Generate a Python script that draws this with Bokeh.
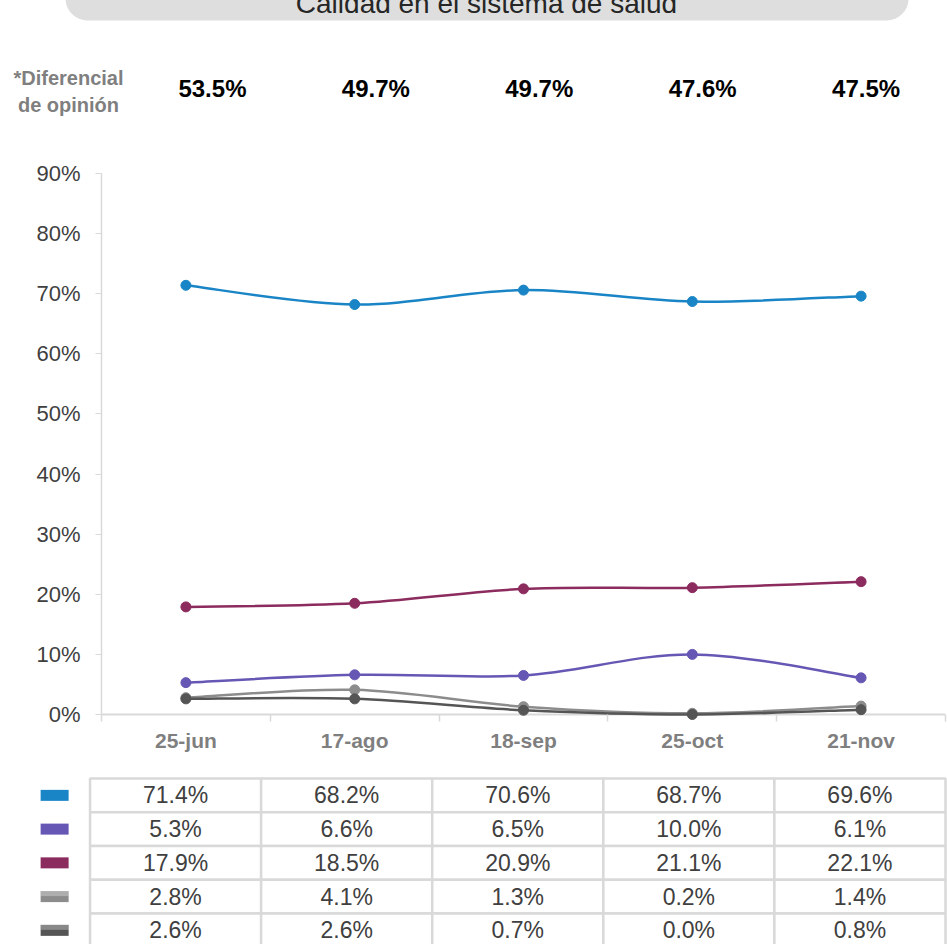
import numpy as np
from bokeh.plotting import figure
from bokeh.models import Range1d, FixedTicker, Span, ColumnDataSource
from bokeh.layouts import column
from bokeh.core.properties import value
from bokeh.embed import file_html
from bokeh.resources import INLINE

# ---------------- data ----------------
title_text = "Calidad en el sistema de salud"
dif_label = "*Diferencial\nde opinión"
dates = ["25-jun", "17-ago", "18-sep", "25-oct", "21-nov"]
diferencial = [53.5, 49.7, 49.7, 47.6, 47.5]
s_blue = [71.4, 68.2, 70.6, 68.7, 69.6]
s_purple = [5.3, 6.6, 6.5, 10.0, 6.1]
s_maroon = [17.9, 18.5, 20.9, 21.1, 22.1]
s_lgray = [2.8, 4.1, 1.3, 0.2, 1.4]
s_dgray = [2.6, 2.6, 0.7, 0.0, 0.8]
y_ticks = [0, 10, 20, 30, 40, 50, 60, 70, 80, 90]

series = [s_blue, s_purple, s_maroon, s_lgray, s_dgray]
colors = ["#1a85c6", "#6757b4", "#8c2b5e", "#8c8c8c", "#555555"]
gradient_rows = [3, 4]

FONT = "Liberation Sans"
W = 947
xs = [i + 0.5 for i in range(len(dates))]


def clean(p):
    p.grid.visible = False
    p.outline_line_color = None
    p.background_fill_color = "white"
    p.border_fill_color = "white"


# ---------------- top (title + diferencial) ----------------
top = figure(width=W, height=150, x_range=Range1d(-0.179, 4.986), y_range=Range1d(150, 0),
             output_backend="svg", toolbar_location=None,
             min_border_top=0, min_border_bottom=0, min_border_left=101, min_border_right=2,
             x_axis_location=None, y_axis_location=None)
clean(top)
top.quad(left=[-0.399], right=[4.760], top=[-40], bottom=[20], border_radius=22,
         fill_color="#dedede", line_color=None, level="overlay")
top.text(x=[2.177], y=[3], text=[title_text], text_font=value(FONT), text_font_size="28px",
         text_color="#262626", text_align="center", text_baseline="alphabetic", level="overlay")
top.text(x=[-0.381], y=[91], text=[dif_label], text_font=value(FONT), text_font_size="20px",
         text_font_style="bold", text_color="#7f7f7f", text_align="center",
         text_baseline="middle", text_line_height=1.2, level="overlay")
top.text(x=xs, y=[88] * len(xs), text=[f"{v:.1f}%" for v in diferencial], text_font=value(FONT),
         text_font_size="24px", text_font_style="bold", text_color="#000000",
         text_align="center", text_baseline="middle")

# ---------------- main chart ----------------
main = figure(width=W, height=615, x_range=Range1d(0, 5), y_range=Range1d(-1.165, 90),
              output_backend="svg", toolbar_location=None,
              min_border_top=23, min_border_bottom=44, min_border_left=101, min_border_right=2)
clean(main)

main.add_layout(Span(location=0, dimension="width", line_color="#d9d9d9", line_width=2,
                     level="underlay"))

for vals, col in zip(series, colors):
    n = len(vals)
    P = list(vals)
    x0, y0, x1, y1, cx0, cy0, cx1, cy1 = [], [], [], [], [], [], [], []
    for i in range(n - 1):
        pm = P[max(i - 1, 0)]
        xm = xs[max(i - 1, 0)]
        pp = P[min(i + 2, n - 1)]
        xp = xs[min(i + 2, n - 1)]
        x0.append(xs[i]); y0.append(P[i])
        x1.append(xs[i + 1]); y1.append(P[i + 1])
        cx0.append(xs[i] + (xs[i + 1] - xm) / 6.0); cy0.append(P[i] + (P[i + 1] - pm) / 6.0)
        cx1.append(xs[i + 1] - (xp - xs[i]) / 6.0); cy1.append(P[i + 1] - (pp - P[i]) / 6.0)
    main.bezier(x0=x0, y0=y0, x1=x1, y1=y1, cx0=cx0, cy0=cy0, cx1=cx1, cy1=cy1,
                line_color=col, line_width=2.5)
    main.scatter(xs, vals, size=10, marker="circle", fill_color=col, line_color=col)

ya = main.yaxis[0]
ya.ticker = FixedTicker(ticks=y_ticks)
ya.bounds = (0, 90)
ya.major_label_overrides = {t: f"{t}%" for t in y_ticks}
ya.major_label_text_font = FONT
ya.major_label_text_font_size = "22px"
ya.major_label_text_color = "#404040"
ya.axis_line_color = "#d9d9d9"
ya.axis_line_width = 1.5
ya.major_tick_line_color = "#d9d9d9"
ya.major_tick_out = 6
ya.major_tick_in = 0
ya.minor_tick_line_color = None
ya.major_label_standoff = 15

xa = main.xaxis[0]
xa.ticker = FixedTicker(ticks=xs, minor_ticks=[0, 1, 2, 3, 4, 5])
xa.major_label_overrides = {x: d for x, d in zip(xs, dates)}
xa.major_label_text_font = FONT
xa.major_label_text_font_size = "21px"
xa.major_label_text_font_style = "bold"
xa.major_label_text_color = "#7f7f7f"
xa.axis_line_color = None
xa.major_tick_line_color = None
xa.major_tick_out = 0
xa.major_tick_in = 0
xa.minor_tick_line_color = "#d9d9d9"
xa.minor_tick_line_width = 1.5
xa.minor_tick_in = 7
xa.minor_tick_out = 0
xa.major_label_standoff = 7

# ---------------- table ----------------
tbl = figure(width=W, height=179, x_range=Range1d(0.067, 5.0), y_range=Range1d(4.919, -0.385),
             output_backend="svg", toolbar_location=None,
             min_border_top=0, min_border_bottom=0, min_border_left=101, min_border_right=2,
             x_axis_location=None, y_axis_location=None)
clean(tbl)

cx, cy, ct = [], [], []
for r, vals in enumerate(series):
    for c, v in enumerate(vals):
        cx.append(c + 0.5)
        cy.append(r + 0.5)
        ct.append(f"{v:.1f}%")
src = ColumnDataSource(dict(x=cx, y=cy, t=ct))
tbl.rect(x="x", y="y", width=1, height=1, source=src, fill_color="white",
         line_color="#d9d9d9", line_width=2.5, level="overlay")
tbl.text(x="x", y="y", text="t", source=src, text_font=value(FONT), text_font_size="23px",
         text_color="#404040", text_align="center", text_baseline="middle", level="overlay")
sw_y = [r + 0.5 for r in range(len(series))]
tbl.rect(x=[-0.207] * len(series), y=sw_y, width=28, height=11,
         width_units="screen", height_units="screen", fill_color=colors, line_color=None,
         level="overlay")
# lighter upper band on the grey swatches (gradient look)
tbl.rect(x=[-0.207] * len(gradient_rows), y=[r + 0.5 - 3.0 / 33.75 for r in gradient_rows],
         width=28, height=5, width_units="screen", height_units="screen",
         fill_color="white", fill_alpha=0.3, line_color=None, level="overlay")

layout = column(top, main, tbl, spacing=0)

open("out.html", "w").write(file_html(layout, INLINE))
